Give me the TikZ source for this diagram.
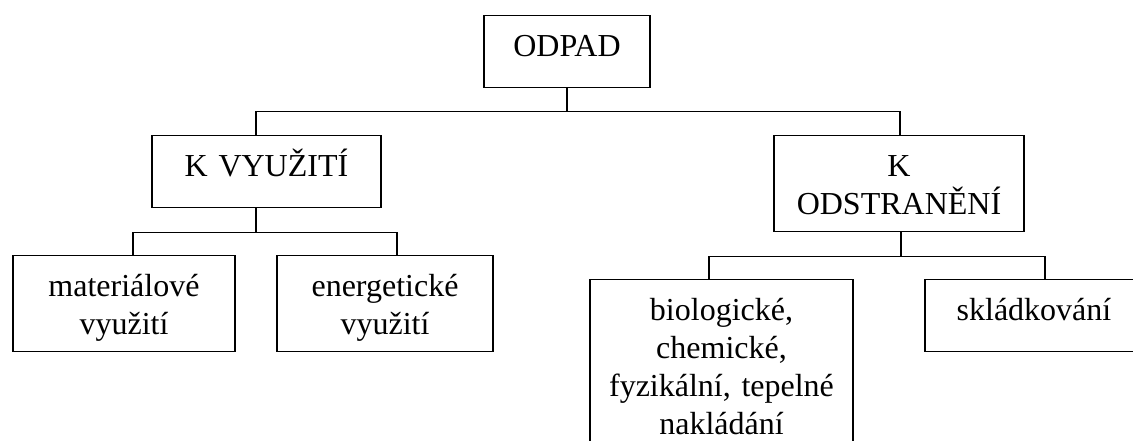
\documentclass[tikz,border=0pt]{standalone}
\usepackage{fontspec}
\setmainfont{Liberation Serif}

\begin{document}
\begin{tikzpicture}[x=0.75pt,y=-0.75pt,
  box/.style={draw, line width=1pt, anchor=north, align=center, inner sep=0pt,
    font=\fontsize{24}{28.5}\selectfont, text height=30.375pt},
  short/.style={text depth=23.625pt},
  tall/.style={text depth=41.625pt},
  link/.style={line width=1pt}]
\path[use as bounding box, clip] (0,0) rectangle (1133,441);

% Text Node
\node[box, short, text width=124.5pt] (odpad) at (567,15) {ODPAD};
% Text Node
\node[box, short, text width=171.75pt] (vyuziti) at (266.5,135) {K VYUŽITÍ};
% Text Node
\node[box, tall, text width=187.5pt] (odstraneni) at (899,135) {K\\ODSTRANĚNÍ};
% Text Node
\node[box, tall, text width=166.5pt] (material) at (124,255) {materiálové\\využití};
% Text Node
\node[box, tall, text width=162pt] (energ) at (385,255) {energetické\\využití};
% Text Node
\node[box, text depth=119.6pt, text width=197.25pt] (bio) at (721.5,279) {biologické,\\chemické,\\fyzikální, tepelné\\nakládání};
% Text Node
\node[box, short, text width=163.5pt] (sklad) at (1034,279) {skládkování};

%Straight Lines
\draw[link] (odpad.south) -- ++(0,23) coordinate (busA);
\draw[link] (busA) -| ([xshift=-7.875pt]vyuziti.north);
\draw[link] (busA) -| ([xshift=0.75pt]odstraneni.north);
%Straight Lines
\draw[link] ([xshift=-7.875pt]vyuziti.south) -- ++(0,24) coordinate (busB);
\draw[link] (busB) -| ([xshift=6.75pt]material.north);
\draw[link] (busB) -| ([xshift=9pt]energ.north);
%Straight Lines
\draw[link] ([xshift=1.5pt]odstraneni.south) -- ++(0,24) coordinate (busC);
\draw[link] (busC) -| ([xshift=-9.375pt]bio.north);
\draw[link] (busC) -| ([xshift=8.25pt]sklad.north);
\end{tikzpicture}
\end{document}
